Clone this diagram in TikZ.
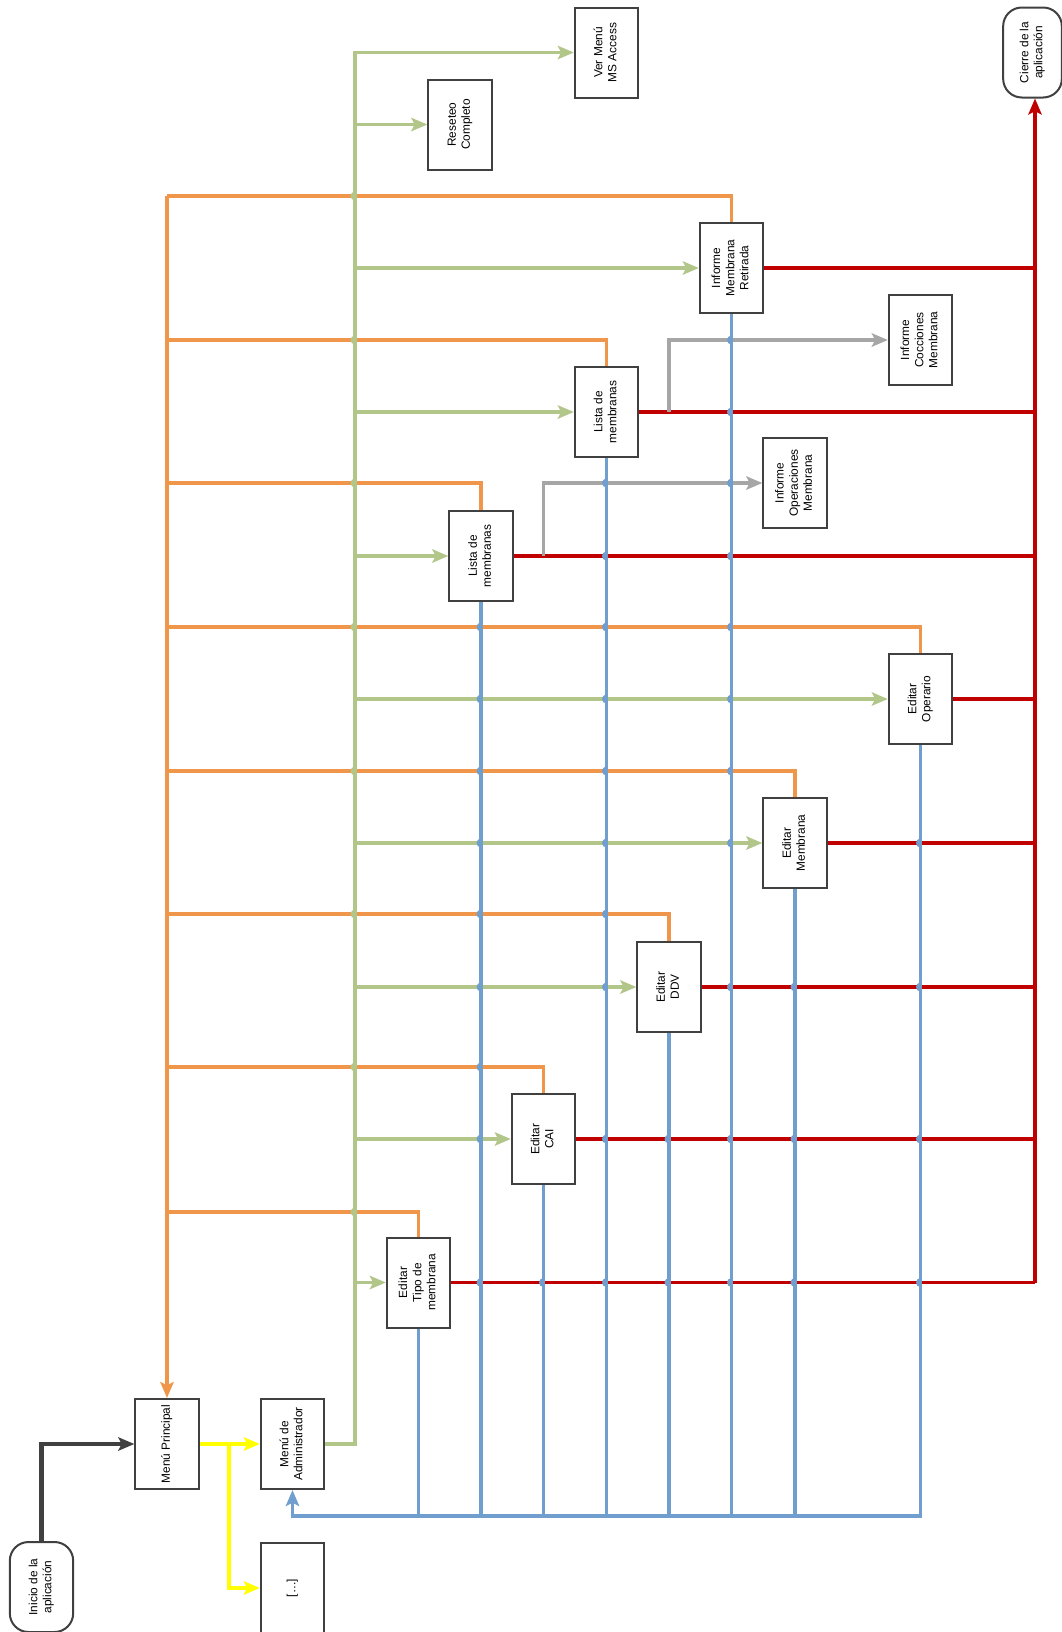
\documentclass[tikz,border=0pt]{standalone}
\usepackage{fontspec}
\setmainfont{Liberation Sans}
\usepackage{graphicx}
\usetikzlibrary{arrows.meta}
\definecolor{cO}{HTML}{F0964B}
\definecolor{cG}{HTML}{B3C68A}
\definecolor{cB}{HTML}{709FCF}
\definecolor{cR}{HTML}{C00000}
\definecolor{cGy}{HTML}{A6A6A6}
\definecolor{cY}{HTML}{FFFF00}
\definecolor{cK}{HTML}{404040}
\definecolor{cBox}{HTML}{404040}
\newcommand\vt[1]{\rotatebox{90}{\begin{tabular}{@{}c@{}}#1\end{tabular}}}
\newcommand\hop[3]{\fill[#1] (#2,#3) ++(0,-4.5) arc[start angle=270,end angle=90,radius=4.5] -- cycle;}
\tikzset{
  box/.style={draw=cBox, line width=1.5pt, fill=white, inner sep=0pt,
    minimum width=47.5pt, minimum height=67.5pt,
    font=\fontsize{8.9pt}{10.6pt}\selectfont},
  term/.style={box, rounded corners=14pt},
  arr/.style={-{Stealth[length=12pt,width=10pt,inset=2.5pt]}},
  ln/.style={line width=2.5pt},
  lo/.style={ln, draw=cO},
  lg/.style={ln, draw=cG},
  lb/.style={ln, draw=cB},
  lr/.style={ln, draw=cR},
  lgy/.style={ln, draw=cGy},
  ly/.style={ln, draw=cY},
  lk/.style={line width=3.2pt, draw=cK},
}
\begin{document}
\begin{tikzpicture}[x=0.75pt,y=-0.75pt]
\useasboundingbox (0,0) rectangle (1062,1632);
% nodes
\node[term] (inicio) at (41.5,1587) {\vt{Inicio de la\\aplicación}};
\node[box] (mp) at (167,1444) {\vt{Menú Principal}};
\node[box] (ma) at (292.5,1444) {\vt{Menú de\\Administrador}};
\node[box] (dots) at (292.5,1588) {\vt{[…]}};
\node[box] (tipo) at (418.5,1282.5) {\vt{Editar\\Tipo de\\membrana}};
\node[box] (cai) at (543.5,1139) {\vt{Editar\\CAI}};
\node[box] (ddv) at (669,987) {\vt{Editar\\DDV}};
\node[box] (memb) at (795,843) {\vt{Editar\\Membrana}};
\node[box] (oper) at (920.5,699) {\vt{Editar\\Operario}};
\node[box] (lista1) at (481,556) {\vt{Lista de\\membranas}};
\node[box] (lista2) at (606.5,412) {\vt{Lista de\\membranas}};
\node[box] (imr) at (731.5,268) {\vt{Informe\\Membrana\\Retirada}};
\node[box] (iop) at (795,483) {\vt{Informe\\Operaciones\\Membrana}};
\node[box] (cocc) at (920.5,340) {\vt{Informe\\Cocciones\\Membrana}};
\node[box] (reset) at (460,124.5) {\vt{Reseteo\\Completo}};
\node[box] (ver) at (606.5,52.5) {\vt{Ver Menú\\MS Access}};
\node[term, minimum width=44pt] (cierre) at (1032.5,52.5) {\vt{Cierre de la\\aplicación}};
% coordinates
\coordinate (o1) at (167,196);
\coordinate (o2) at (167,340);
\coordinate (o3) at (167,483);
\coordinate (o4) at (167,627);
\coordinate (o5) at (167,771);
\coordinate (o6) at (167,914);
\coordinate (o7) at (167,1067);
\coordinate (o8) at (167,1212);
\coordinate (gtop) at (355,52.5);
\coordinate (gbot) at (355,1444);
\coordinate (rbot) at (1035,1282.5);
\coordinate (gy1) at (669,412);
\coordinate (gy2) at (543.5,556);
\coordinate (bbot) at (920.5,1516);
\coordinate (yb) at (229,1444);
% black and yellow
\draw[lk,arr] (inicio.north) |- (mp.west);
\draw[ly,arr] (mp.east) -- (ma.west);
\draw[ly,arr] (yb) |- (dots.west);
% orange
\draw[lo,arr] (o1) -- (mp.north);
\draw[lo] (o1) -| (imr.north);
\draw[lo] (o2) -| (lista2.north);
\draw[lo] (o3) -| (lista1.north);
\draw[lo] (o4) -| (oper.north);
\draw[lo] (o5) -| (memb.north);
\draw[lo] (o6) -| (ddv.north);
\draw[lo] (o7) -| (cai.north);
\draw[lo] (o8) -| (tipo.north);
% green
\draw[lg,arr] (ma.east) -- (gbot) -- (gtop) -- (ver.west);
\foreach \n in {reset,imr,lista2,lista1,oper,memb,ddv,cai,tipo}
  \draw[lg,arr] (gtop |- \n.west) -- (\n.west);
% red
\draw[lr] (tipo.east) -- (rbot);
\draw[lr,arr] (rbot) -- (rbot |- cierre.south);
\foreach \n in {cai,ddv,memb,oper,lista1,lista2,imr}
  \draw[lr] (\n.east) -- (rbot |- \n.east);
% grey
\draw[lgy,arr] (gy1) |- (cocc.west);
\draw[lgy,arr] (gy2) |- (iop.west);
% blue
\draw[lb,arr] (oper.south) -- (bbot) -| (ma.south);
\foreach \n in {tipo,cai,ddv,memb,lista1,lista2,imr}
  \draw[lb] (\n.south) -- (\n.south |- bbot);
% hops
\foreach \y in {196,340,483,627,771,914,1067,1212} {\hop{cG}{355}{\y}}
\foreach \y in {627,699,771,843,914,987,1067,1139,1282.5} {\hop{cB}{481}{\y}}
\hop{cB}{543.5}{1282.5}
\foreach \y in {483,556,627,699,771,843,914,987,1139,1282.5} {\hop{cB}{606.5}{\y}}
\foreach \y in {1139,1282.5} {\hop{cB}{669}{\y}}
\foreach \y in {340,412,483,556,627,699,771,843,987,1139,1282.5} {\hop{cB}{731.5}{\y}}
\foreach \y in {987,1139,1282.5} {\hop{cB}{795}{\y}}
\foreach \y in {843,987,1139,1282.5} {\hop{cB}{920.5}{\y}}
\end{tikzpicture}
\end{document}
